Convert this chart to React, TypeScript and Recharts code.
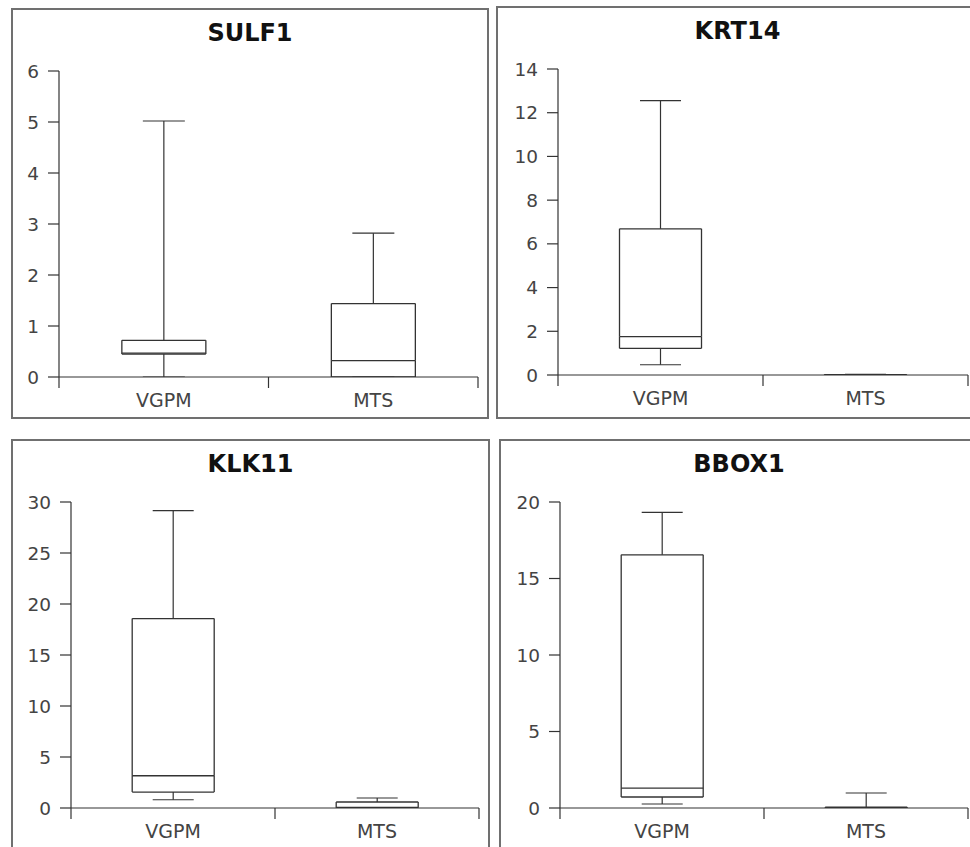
import React from 'react'
import { ComposedChart, Bar, XAxis, YAxis } from 'recharts'

// five-number summaries per group: [min, q1, median, q3, max]
const groups = ['VGPM', 'MTS']

const sulf1VGPM = [0, 0.45, 0.47, 0.72, 5.02]
const sulf1MTS = [0, 0, 0.32, 1.44, 2.82]
const sulf1Ticks = [0, 1, 2, 3, 4, 5, 6]

const krt14VGPM = [0.47, 1.22, 1.76, 6.69, 12.55]
const krt14MTS = [0, 0, 0.01, 0.02, 0.03]
const krt14Ticks = [0, 2, 4, 6, 8, 10, 12, 14]

const klk11VGPM = [0.81, 1.56, 3.16, 18.57, 29.15]
const klk11MTS = [0, 0, 0.05, 0.59, 0.98]
const klk11Ticks = [0, 5, 10, 15, 20, 25, 30]

const bbox1VGPM = [0.26, 0.72, 1.3, 16.55, 19.32]
const bbox1MTS = [0, 0, 0.02, 0.05, 0.98]
const bbox1Ticks = [0, 5, 10, 15, 20]

const INK = '#333'
const FONT = '"DejaVu Sans", sans-serif'

// turn summaries into stacked segments
function toRows(summaries: number[][]) {
    return summaries.map((s, i) => ({
        name: groups[i],
        base: s[0],
        lowWhisker: s[1] - s[0],
        lowBox: s[2] - s[1],
        highBox: s[3] - s[2],
        highWhisker: s[4] - s[3],
    }))
}

const LowWhisker = (p: any) => {
    const cx = p.x + p.width / 2
    const bottom = p.y + p.height
    const cap = p.width / 4
    return (
        <g stroke={INK} strokeWidth={1.2}>
            <line x1={cx} x2={cx} y1={p.y} y2={bottom} />
            <line x1={cx - cap} x2={cx + cap} y1={bottom} y2={bottom} />
        </g>
    )
}

const HighWhisker = (p: any) => {
    const cx = p.x + p.width / 2
    const cap = p.width / 4
    return (
        <g stroke={INK} strokeWidth={1.2}>
            <line x1={cx} x2={cx} y1={p.y} y2={p.y + p.height} />
            <line x1={cx - cap} x2={cx + cap} y1={p.y} y2={p.y} />
        </g>
    )
}

// q1 -> median: sides, bottom edge and median line
const LowBox = (p: any) => {
    const b = p.y + p.height
    return (
        <g stroke={INK} strokeWidth={1.3} fill="none">
            <line x1={p.x} x2={p.x} y1={p.y} y2={b} />
            <line x1={p.x + p.width} x2={p.x + p.width} y1={p.y} y2={b} />
            <line x1={p.x} x2={p.x + p.width} y1={b} y2={b} />
            <line x1={p.x} x2={p.x + p.width} y1={p.y} y2={p.y} />
        </g>
    )
}

// median -> q3: sides and top edge
const HighBox = (p: any) => {
    const b = p.y + p.height
    return (
        <g stroke={INK} strokeWidth={1.3} fill="none">
            <line x1={p.x} x2={p.x} y1={p.y} y2={b} />
            <line x1={p.x + p.width} x2={p.x + p.width} y1={p.y} y2={b} />
            <line x1={p.x} x2={p.x + p.width} y1={p.y} y2={p.y} />
        </g>
    )
}

// group label at band centre, tick marks at band edges
const GroupTick = (p: any) => {
    const { x, y, payload, width, visibleTicksCount, index } = p
    const half = width / (2 * visibleTicksCount)
    const axisY = y - 17
    const last = index === visibleTicksCount - 1
    return (
        <g>
            <line x1={x - half} x2={x - half} y1={axisY} y2={axisY + 11} stroke={INK} strokeWidth={1.2} />
            {last && <line x1={x + half} x2={x + half} y1={axisY} y2={axisY + 11} stroke={INK} strokeWidth={1.2} />}
            <text x={x} y={y} dy="0.71em" textAnchor="middle" fill="#444" fontSize={19} fontFamily={FONT}>
                {payload.value}
            </text>
        </g>
    )
}

interface PanelProps {
    title: string
    left: number
    top: number
    width: number
    height: number
    axisWidth: number
    ticks: number[]
    rows: ReturnType<typeof toRows>
}

function BoxPanel({ title, left, top, width, height, axisWidth, ticks, rows }: PanelProps) {
    const chartW = width - 4
    return (
        <div
            style={{
                position: 'absolute', left, top, width, height, boxSizing: 'border-box',
                border: '2px solid #707070', background: '#fff', overflow: 'hidden',
            }}
        >
            <div
                style={{
                    position: 'absolute', left: 0, top: 12, width: chartW, textAlign: 'center',
                    fontFamily: FONT, fontWeight: 'bold', fontSize: 24, lineHeight: '22px', color: '#111',
                }}
            >
                {title}
            </div>
            <ComposedChart
                width={chartW}
                height={407}
                data={rows}
                margin={{ top: 61, right: 9, bottom: 0, left: 0 }}
                barCategoryGap="30%"
            >
                <XAxis
                    dataKey="name"
                    height={40}
                    tickLine={false}
                    tickSize={11}
                    tickMargin={6}
                    axisLine={{ stroke: INK, strokeWidth: 1.2 }}
                    tick={<GroupTick />}
                    interval={0}
                />
                <YAxis
                    width={axisWidth}
                    domain={[0, ticks[ticks.length - 1]]}
                    ticks={ticks}
                    interval={0}
                    tickSize={11}
                    tickMargin={9}
                    axisLine={{ stroke: INK, strokeWidth: 1.2 }}
                    tickLine={{ stroke: INK, strokeWidth: 1.2 }}
                    tick={{ fill: '#444', fontSize: 18.5, fontFamily: FONT }}
                    allowDataOverflow
                />
                <Bar dataKey="base" stackId="b" fill="none" isAnimationActive={false} shape={() => <g />} />
                <Bar dataKey="lowWhisker" stackId="b" isAnimationActive={false} shape={LowWhisker} />
                <Bar dataKey="lowBox" stackId="b" isAnimationActive={false} shape={LowBox} />
                <Bar dataKey="highBox" stackId="b" isAnimationActive={false} shape={HighBox} />
                <Bar dataKey="highWhisker" stackId="b" isAnimationActive={false} shape={HighWhisker} />
            </ComposedChart>
        </div>
    )
}

export default function App() {
    return (
        <div style={{ position: 'absolute', left: 0, top: 0, width: 970, height: 847, overflow: 'hidden', background: '#fff' }}>
            <BoxPanel title="SULF1" left={11} top={8} width={478} height={411} axisWidth={46} ticks={sulf1Ticks} rows={toRows([sulf1VGPM, sulf1MTS])} />
            <BoxPanel title="KRT14" left={496} top={6} width={483} height={413} axisWidth={60} ticks={krt14Ticks} rows={toRows([krt14VGPM, krt14MTS])} />
            <BoxPanel title="KLK11" left={11} top={439} width={479} height={420} axisWidth={58} ticks={klk11Ticks} rows={toRows([klk11VGPM, klk11MTS])} />
            <BoxPanel title="BBOX1" left={499} top={439} width={480} height={420} axisWidth={59} ticks={bbox1Ticks} rows={toRows([bbox1VGPM, bbox1MTS])} />
        </div>
    )
}
